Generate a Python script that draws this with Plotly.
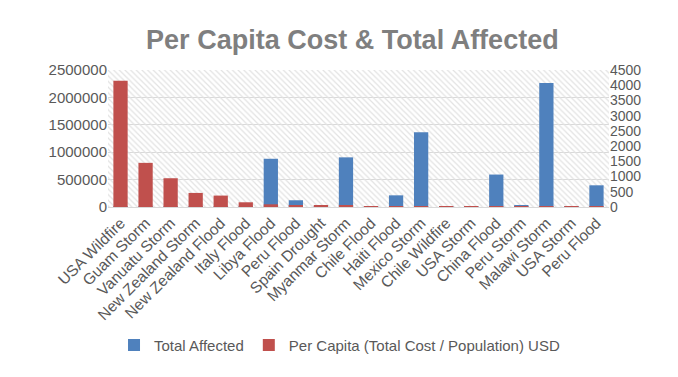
import plotly.graph_objects as go

categories = ["USA Wildfire", "Guam Storm", "Vanuatu Storm", "New Zealand Storm",
              "New Zealand Flood", "Italy Flood", "Libya Flood", "Peru Flood",
              "Spain Drought", "Myanmar Storm", "Chile Flood", "Haiti Flood",
              "Mexico Storm", "Chile Wildfire", "USA Storm", "China Flood",
              "Peru Storm", "Malawi Storm", "USA Storm", "Peru Flood"]
total_affected = [2000, 1000, 3000, 2000, 1000, 5000, 880000, 123000, 3000, 906000,
                  5000, 213000, 1366000, 2000, 2000, 592000, 30000, 2262000, 2000, 396000]
per_capita = [4150, 1450, 945, 462, 375, 155, 88, 45, 55, 35,
              22, 12, 10, 20, 10, 6, 4, 4, 10, 3]

left_ticks = [0, 500000, 1000000, 1500000, 2000000, 2500000]
right_ticks = [0, 500, 1000, 1500, 2000, 2500, 3000, 3500, 4000, 4500]

xpos = list(range(len(categories)))
blue = "#4f81bd"
red = "#c0504d"
txt = "#595959"
font = "Liberation Sans, Arial, sans-serif"

W, H = 670, 369  # page body adds an 8px offset
fig = go.Figure()
# hatched plot-area background (decorative)
fig.add_trace(go.Bar(
    x=[(len(categories) - 1) / 2], y=[left_ticks[-1]], width=[len(categories)],
    marker=dict(color="rgba(0,0,0,0)", line=dict(width=0),
                pattern=dict(shape="\\", fgcolor="#e2e2e2", bgcolor="rgba(0,0,0,0)",
                             size=4, solidity=0.3, fillmode="replace")),
    showlegend=False, hoverinfo="skip", yaxis="y"))
fig.add_trace(go.Bar(x=xpos, y=total_affected, name="Total Affected",
                     marker=dict(color=blue, line=dict(width=0)), width=0.57, yaxis="y"))
fig.add_trace(go.Bar(x=xpos, y=per_capita, name="Per Capita (Total Cost / Population) USD",
                     marker=dict(color=red, line=dict(width=0)), width=0.57, yaxis="y2"))

fig.update_layout(
    width=W, height=H,
    margin=dict(l=100, r=69, t=62, b=170, autoexpand=False),
    paper_bgcolor="white", plot_bgcolor="white",
    barmode="overlay",
    font=dict(family=font, size=15, color=txt),
    title=dict(text="<b>Per Capita Cost & Total Affected</b>", x=0.514, xanchor="center",
               y=1 - 32 / H, yanchor="middle",
               font=dict(size=27, color="#7f7f7f", family=font)),
    xaxis=dict(tickvals=xpos, ticktext=categories, tickangle=-45, automargin=False,
               range=[-0.5, len(categories) - 0.5], showgrid=False,
               showline=True, linecolor="#d9d9d9", ticks="", zeroline=False,
               tickfont=dict(size=15.5, color=txt)),
    yaxis=dict(range=[0, left_ticks[-1]], tickvals=left_ticks, automargin=False,
               ticktext=[str(v) for v in left_ticks],
               showgrid=True, gridcolor="#d9d9d9", gridwidth=1, zeroline=False,
               ticks="", tickfont=dict(size=15, color=txt)),
    yaxis2=dict(range=[0, right_ticks[-1]], tickvals=right_ticks, automargin=False,
                ticktext=[str(v) for v in right_ticks],
                overlaying="y", side="right", showgrid=False, zeroline=False,
                ticks="", tickfont=dict(size=14, color=txt)),
    legend=dict(orientation="h", x=0.012, xanchor="left",
                y=-1.01, yanchor="middle",
                font=dict(size=15, color=txt), traceorder="normal"),
    showlegend=True,
)

fig.write_html("out.html")
